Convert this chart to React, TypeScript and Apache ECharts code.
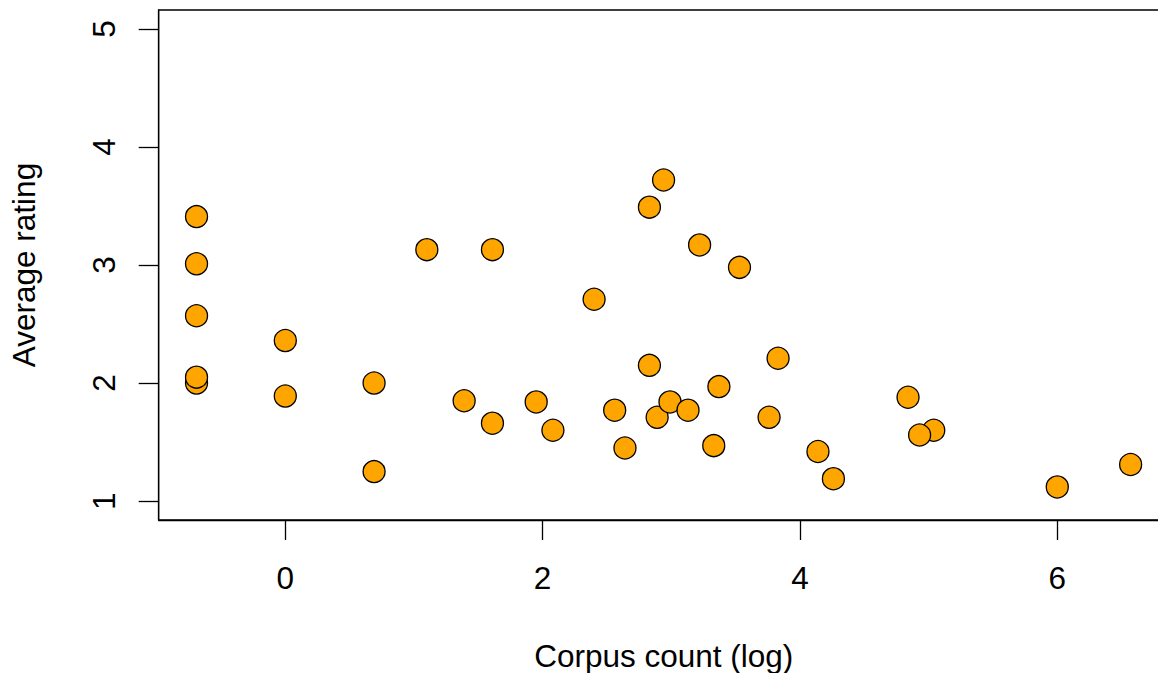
import React, { useEffect, useRef } from "react";
import * as echarts from "echarts";

// Corpus count (log) and average rating for each item, in drawing order
const corpusLog: number[] = [
  -0.69, -0.69, -0.69, -0.69, -0.69,
  0.0, 0.0,
  0.69, 0.69,
  1.1, 1.39, 1.61, 1.61, 1.95, 2.08, 2.4,
  2.56, 2.64, 2.83, 2.94, 2.83, 2.89, 2.99, 3.13,
  3.22, 3.33, 3.37, 3.53, 3.76, 3.83,
  4.14, 4.26, 4.84, 5.04, 4.93, 6.0, 6.57,
];
const avgRating: number[] = [
  3.41, 3.01, 2.57, 2.0, 2.05,
  2.36, 1.89,
  2.0, 1.25,
  3.13, 1.85, 3.13, 1.66, 1.84, 1.6, 2.71,
  1.77, 1.45, 3.49, 3.72, 2.15, 1.71, 1.84, 1.77,
  3.17, 1.47, 1.97, 2.98, 1.71, 2.21,
  1.42, 1.19, 1.88, 1.6, 1.56, 1.12, 1.31,
];

const xTicks: number[] = [0, 2, 4, 6];
const yTicks: number[] = [1, 2, 3, 4, 5];

const xTitle = "Corpus count (log)";
const yTitle = "Average rating";

const FONT = "'Liberation Sans', Arial, Helvetica, sans-serif";
const FS = 31.5;

export default function App() {
  const ref = useRef<HTMLDivElement>(null);

  useEffect(() => {
    if (!ref.current) return;
    const chart = echarts.init(ref.current, null, { renderer: "svg" });
    const gridLeft = 158.7;
    const gridTop = 10;
    const gridW = 1010;
    const gridH = 510;
    const lineStyle = { color: "#000", width: 1.3 };
    chart.setOption({
      animation: false,
      backgroundColor: "#fff",
      grid: {
        left: gridLeft,
        top: gridTop,
        width: gridW,
        height: gridH,
        show: true,
        borderColor: "#000",
        borderWidth: 1.3,
        backgroundColor: "transparent",
        containLabel: false,
      },
      xAxis: {
        type: "value",
        min: -0.984,
        max: 6.866,
        splitLine: { show: false },
        axisLine: { show: true, onZero: false, lineStyle },
        axisTick: {
          show: true,
          length: 20,
          inside: false,
          customValues: xTicks,
          lineStyle,
        },
        axisLabel: {
          customValues: xTicks,
          margin: 42,
          fontSize: FS,
          fontFamily: FONT,
          color: "#000",
        },
      },
      yAxis: {
        type: "value",
        min: 0.84,
        max: 5.16,
        splitLine: { show: false },
        axisLine: { show: true, onZero: false, lineStyle },
        axisTick: {
          show: true,
          length: 20,
          inside: false,
          customValues: yTicks,
          lineStyle,
        },
        axisLabel: {
          customValues: yTicks,
          rotate: 90,
          margin: 39,
          fontSize: FS,
          fontFamily: FONT,
          color: "#000",
        },
      },
      graphic: [
        {
          type: "text",
          x: gridLeft + gridW / 2,
          y: 656,
          style: {
            text: xTitle,
            fontSize: FS,
            fontFamily: FONT,
            fill: "#000",
            align: "center",
            verticalAlign: "middle",
          },
        },
        {
          type: "text",
          x: 24,
          y: gridTop + gridH / 2,
          rotation: Math.PI / 2,
          style: {
            text: yTitle,
            fontSize: FS,
            fontFamily: FONT,
            fill: "#000",
            align: "center",
            verticalAlign: "middle",
          },
        },
      ],
      series: [
        {
          type: "scatter",
          data: corpusLog.map((x, i) => [x, avgRating[i]]),
          symbol: "circle",
          symbolSize: 22,
          itemStyle: {
            color: "#FFA500",
            borderColor: "#000",
            borderWidth: 1.3,
            opacity: 1,
          },
          emphasis: { disabled: true },
        },
      ],
    });
    return () => chart.dispose();
  }, []);

  return (
    <div
      style={{
        position: "absolute",
        left: 0,
        top: 0,
        width: 1158,
        height: 673,
        overflow: "hidden",
        background: "#fff",
      }}
    >
      <div ref={ref} style={{ width: 1180, height: 673 }} />
    </div>
  );
}
